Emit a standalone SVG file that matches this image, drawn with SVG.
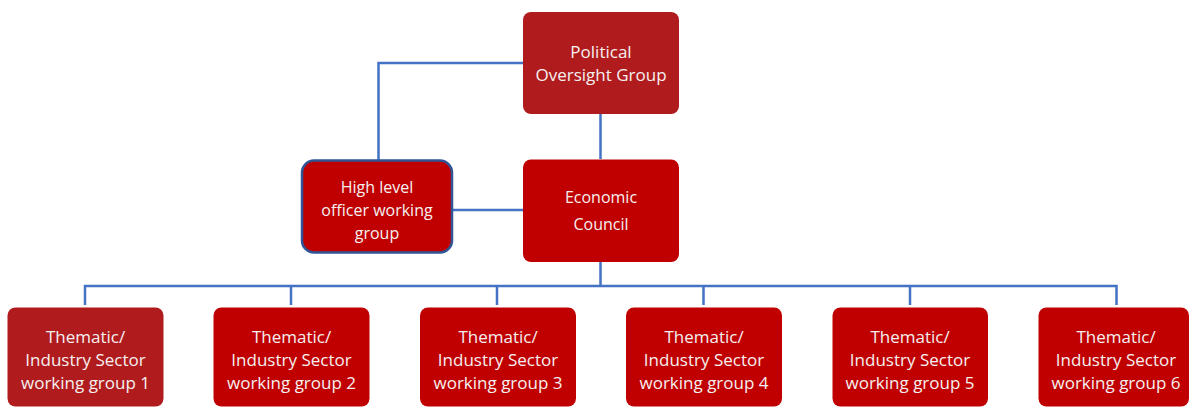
<svg xmlns="http://www.w3.org/2000/svg" width="1190" height="407" viewBox="0 0 1190 407">
  <style>
    .box { fill: #C00000; }
    .box.dark { fill: #B01C1E; }
    .box.outlined { stroke: #2F5597; stroke-width: 2.5; }
    .label { font-family: "Open Sans", "Noto Sans", "Liberation Sans", sans-serif; font-size: 17px; fill: #F5F0F0; text-anchor: middle; }
    .label.mid { font-weight: 500; font-size: 16px; }
    .wire { fill: none; stroke: #4472C4; stroke-width: 2.5; }
  </style>
  <rect width="1190" height="407" fill="#FFFFFF"/>

  <g id="connectors">
    <path class="wire" d="M523 63 H378.5 V160"/>
    <path class="wire" d="M600.5 114 V159"/>
    <path class="wire" d="M452 210 H523"/>
    <path class="wire" d="M600.5 262 V286"/>
    <path class="wire" d="M85 305 V286 H1116.5 V305"/>
    <path class="wire" d="M291 286 V305 M497 286 V305 M703.5 286 V305 M910 286 V305"/>
  </g>

  <g id="political-oversight-group">
    <rect class="box dark" x="523" y="12" width="156" height="102" rx="8"/>
    <text class="label" x="601" y="58">Political</text>
    <text class="label" x="601" y="81">Oversight Group</text>
  </g>

  <g id="high-level-officer-working-group">
    <rect class="box outlined" x="302" y="160.5" width="150" height="92" rx="12"/>
    <text class="label mid" x="377" y="193">High level</text>
    <text class="label mid" x="377" y="216">officer working</text>
    <text class="label mid" x="377" y="238.5">group</text>
  </g>

  <g id="economic-council">
    <rect class="box" x="523" y="159.5" width="156" height="102.5" rx="8"/>
    <text class="label mid" x="601" y="202.5">Economic</text>
    <text class="label mid" x="601" y="230">Council</text>
  </g>

  <g id="working-group-1">
    <rect class="box dark" x="7.5" y="307.5" width="156" height="99" rx="8"/>
    <text class="label" x="85.5" y="342.5">Thematic/</text>
    <text class="label" x="85.5" y="366">Industry Sector</text>
    <text class="label" x="85.5" y="388.5">working group 1</text>
  </g>

  <g id="working-group-2">
    <rect class="box" x="213.5" y="307.5" width="156" height="99" rx="8"/>
    <text class="label" x="291.5" y="342.5">Thematic/</text>
    <text class="label" x="291.5" y="366">Industry Sector</text>
    <text class="label" x="291.5" y="388.5">working group 2</text>
  </g>

  <g id="working-group-3">
    <rect class="box" x="420" y="307.5" width="156" height="99" rx="8"/>
    <text class="label" x="498" y="342.5">Thematic/</text>
    <text class="label" x="498" y="366">Industry Sector</text>
    <text class="label" x="498" y="388.5">working group 3</text>
  </g>

  <g id="working-group-4">
    <rect class="box" x="626" y="307.5" width="156" height="99" rx="8"/>
    <text class="label" x="704" y="342.5">Thematic/</text>
    <text class="label" x="704" y="366">Industry Sector</text>
    <text class="label" x="704" y="388.5">working group 4</text>
  </g>

  <g id="working-group-5">
    <rect class="box" x="832.5" y="307.5" width="155.5" height="99" rx="8"/>
    <text class="label" x="910" y="342.5">Thematic/</text>
    <text class="label" x="910" y="366">Industry Sector</text>
    <text class="label" x="910" y="388.5">working group 5</text>
  </g>

  <g id="working-group-6">
    <rect class="box" x="1038.5" y="307.5" width="150.5" height="99" rx="8"/>
    <text class="label" x="1116" y="342.5">Thematic/</text>
    <text class="label" x="1116" y="366">Industry Sector</text>
    <text class="label" x="1116" y="388.5">working group 6</text>
  </g>
</svg>
